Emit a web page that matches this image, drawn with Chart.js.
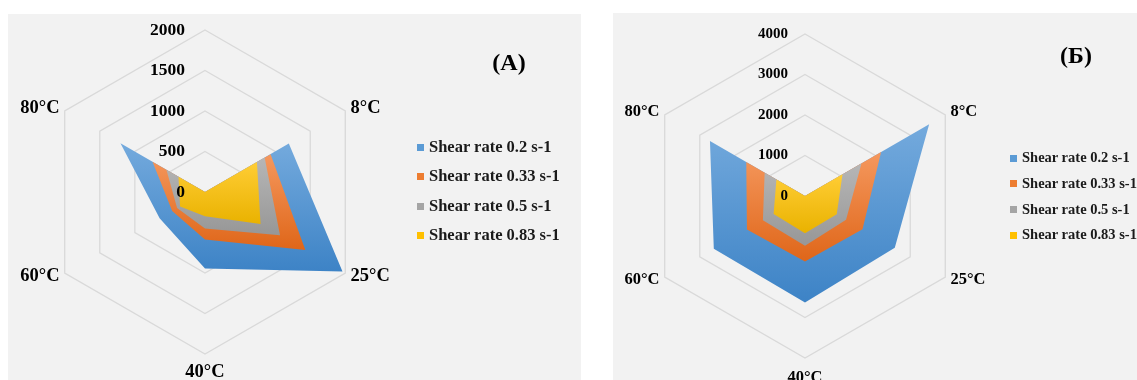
<!DOCTYPE html>
<html>
<head>
<meta charset="utf-8">
<script src="https://cdn.jsdelivr.net/npm/chart.js@4.4.1/dist/chart.umd.min.js"></script>
<style>
  body { margin: 0; background: #ffffff; width: 1137px; height: 380px; overflow: hidden; position: relative; }
  .panel { position: absolute; background: #f2f2f2; overflow: hidden; }
  .panel canvas { position: absolute; left: 0; top: 0; }
  .titulo { position: absolute; font-family: "Liberation Serif", "Times New Roman", serif; font-weight: bold; color: #000; transform: translate(-50%, -50%); white-space: nowrap; }
  .leyenda { position: absolute; left: 0; top: 0; font-family: "Liberation Serif", "Times New Roman", serif; font-weight: bold; color: #1a1a1a; }
  .leyenda div { position: absolute; white-space: nowrap; line-height: 1.2; }
  .leyenda span { position: absolute; }
</style>
</head>
<body>
<div class="panel" id="panelA" style="left:8px; top:14px; width:573px; height:366px;">
  <canvas id="graficoA" width="573" height="366"></canvas>
  <div class="titulo" style="left:501px; top:48px; font-size:24px;">(A)</div>
  <div class="leyenda" id="leyendaA"></div>
</div>
<div class="panel" id="panelB" style="left:613px; top:13px; width:524px; height:367px;">
  <canvas id="graficoB" width="524" height="367"></canvas>
  <div class="titulo" style="left:463px; top:42px; font-size:24px;">(Б)</div>
  <div class="leyenda" id="leyendaB"></div>
</div>
<script>
// ========== Datos ==========
const categorias = ["", "8°C", "25°C", "40°C", "60°C", "80°C"];
const series = ["Shear rate 0.2 s-1", "Shear rate 0.33 s-1", "Shear rate 0.5 s-1", "Shear rate 0.83 s-1"];

// (A)
const ticksA = [0, 500, 1000, 1500, 2000];
const azulA = [0, 1195, 1960, 945, 647, 1205];
const naranjaA = [0, 935, 1430, 585, 468, 748];
const grisA = [0, 850, 1070, 452, 398, 550];
const amarilloA = [0, 740, 792, 300, 355, 378];

// (Б)
const ticksB = [0, 1000, 2000, 3000, 4000];
const azulB = [0, 3540, 2560, 2630, 2600, 2710];
const naranjaB = [0, 2170, 1640, 1620, 1655, 1675];
const grisB = [0, 1610, 1170, 1230, 1200, 1150];
const amarilloB = [0, 1070, 905, 920, 895, 815];

// colores tipo Excel: [claro arriba, oscuro abajo, leyenda]
const colores = [
  ["#74aadd", "#3d83c6", "#5b9bd5"],
  ["#f5985e", "#df6619", "#ed7d31"],
  ["#b6b6b6", "#979797", "#a5a5a5"],
  ["#ffcd35", "#e9b200", "#ffc000"],
];

const fuente = "'Liberation Serif', 'Times New Roman', serif";

// ========== Gradiente por serie ==========
function gradiente(ctx, idx) {
  const chart = ctx.chart;
  const escala = chart.scales.r;
  if (!escala || !chart.chartArea) return colores[idx][2];
  const datos = chart.data.datasets[ctx.datasetIndex].data;
  let ymin = Infinity, ymax = -Infinity;
  datos.forEach((v, i) => {
    const p = escala.getPointPositionForValue(i, v);
    ymin = Math.min(ymin, p.y);
    ymax = Math.max(ymax, p.y);
  });
  if (!isFinite(ymin) || ymax - ymin < 1) return colores[idx][2];
  const g = chart.ctx.createLinearGradient(0, ymin, 0, ymax);
  g.addColorStop(0, colores[idx][0]);
  g.addColorStop(1, colores[idx][1]);
  return g;
}

// ========== Sombra y etiquetas ==========
const sombra = {
  id: "sombra",
  beforeDatasetDraw(chart) {
    const c = chart.ctx;
    c.save();
    c.shadowColor = "rgba(0,0,0,0.35)";
    c.shadowBlur = 4;
    c.shadowOffsetX = 1;
    c.shadowOffsetY = 2;
  },
  afterDatasetDraw(chart) {
    chart.ctx.restore();
  },
};

const etiquetas = {
  id: "etiquetas",
  afterDatasetsDraw(chart, args, opts) {
    const c = chart.ctx;
    const r = chart.scales.r;
    c.save();
    c.fillStyle = "#000";
    // valores del eje
    c.font = "bold " + opts.tamTick + "px " + fuente;
    c.textAlign = "right";
    c.textBaseline = "middle";
    r.ticks.forEach((t) => {
      const y = r.yCenter - r.getDistanceFromCenterForValue(t.value);
      c.fillText(String(t.value), r.xCenter - opts.despTick, y);
    });
    // categorias
    c.font = "bold " + opts.tamCat + "px " + fuente;
    chart.data.labels.forEach((lab, i) => {
      if (!lab) return;
      const esAbajo = i === 3;
      const p = r.getPointPosition(i, r.drawingArea + (esAbajo ? opts.padAbajo : opts.padLado));
      if (esAbajo) {
        c.textAlign = "center";
        c.textBaseline = "top";
      } else {
        c.textAlign = p.x > r.xCenter ? "left" : "right";
        c.textBaseline = "middle";
      }
      c.fillText(lab, p.x, p.y);
    });
    c.restore();
  },
};

function crearDatasets(valores) {
  return valores.map((v, i) => ({
    label: series[i],
    data: v,
    order: 4 - i,
    fill: true,
    backgroundColor: (ctx) => gradiente(ctx, i),
    borderColor: "transparent",
    borderWidth: 0,
    pointRadius: 0,
    tension: 0,
  }));
}

function crearGrafico(id, valores, ticks, padding, opts) {
  const ctx = document.getElementById(id).getContext("2d");
  return new Chart(ctx, {
    type: "radar",
    data: {
      labels: categorias,
      datasets: crearDatasets(valores),
    },
    options: {
      responsive: false,
      animation: false,
      events: [],
      layout: { padding: padding },
      plugins: {
        legend: { display: false },
        tooltip: { enabled: false },
        etiquetas: opts,
      },
      scales: {
        r: {
          min: ticks[0],
          max: ticks[ticks.length - 1],
          ticks: { display: false, stepSize: ticks[1] - ticks[0] },
          pointLabels: { display: false },
          angleLines: { display: false },
          grid: { color: "#d9d9d9", lineWidth: 1.3, circular: false },
        },
      },
    },
    plugins: [sombra, etiquetas],
  });
}

function crearLeyenda(id, x, y0, paso, tam) {
  const cont = document.getElementById(id);
  cont.innerHTML = series
    .map(
      (s, i) => `
    <span style="left:${x}px; top:${y0 + i * paso - 3.5}px; width:7px; height:7px; background:${colores[i][2]};"></span>
    <div style="left:${x + 12}px; top:${y0 + i * paso - tam * 0.62}px; font-size:${tam}px;">${s}</div>
  `
    )
    .join("");
}

// ========== Graficos ==========
crearGrafico(
  "graficoA",
  [azulA, naranjaA, grisA, amarilloA],
  ticksA,
  { left: 35, top: 16, right: 213, bottom: 25 },
  { tamTick: 17.5, despTick: 20, tamCat: 18.5, padLado: 6, padAbajo: 9 }
);
crearGrafico(
  "graficoB",
  [azulB, naranjaB, grisB, amarilloB],
  ticksB,
  { left: 30, top: 21, right: 169, bottom: 21 },
  { tamTick: 15, despTick: 17, tamCat: 16.5, padLado: 6, padAbajo: 11 }
);

crearLeyenda("leyendaA", 409, 133, 29.5, 16.5);
crearLeyenda("leyendaB", 397, 145, 25.8, 14.5);
</script>
</body>
</html>
